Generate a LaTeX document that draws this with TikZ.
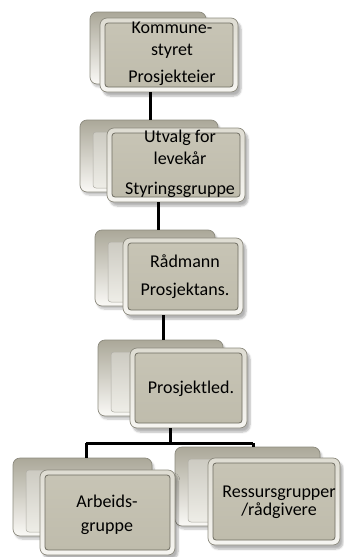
\documentclass[tikz,border=0pt]{standalone}
\usepackage{fontspec}
\setmainfont{Carlito}
\usetikzlibrary{shadows.blur}
\definecolor{rimdark}{HTML}{8C8A7E}
\definecolor{rimtop}{HTML}{DEDCD2}
\definecolor{rimbot}{HTML}{F6F5F1}
\definecolor{facecol}{HTML}{BFBCAC}
\definecolor{facetop}{HTML}{C7C4B5}
\definecolor{faceline}{HTML}{6F6D62}
\definecolor{backtop}{HTML}{ABA899}
\definecolor{backmid}{HTML}{EEEDE7}
\definecolor{backbot}{HTML}{FAF9F6}
\tikzset{
  backrim/.style={draw=rimdark, line width=0.7pt, rounded corners=7pt,
    top color=backtop, middle color=backmid, bottom color=backbot,
    blur shadow={shadow xshift=2pt, shadow yshift=-3pt, shadow blur steps=6, shadow opacity=25},
    inner sep=0pt},
  frontrim/.style={draw=rimdark, line width=0.7pt, rounded corners=7pt,
    top color=rimtop, bottom color=rimbot,
    blur shadow={shadow xshift=3pt, shadow yshift=-4pt, shadow blur steps=6, shadow opacity=30},
    inner sep=0pt},
  backface/.style={draw=rimdark!70, line width=0.5pt, rounded corners=3pt,
    top color=backtop!60!white, bottom color=backmid, inner sep=0pt},
  frontface/.style={draw=faceline, line width=0.8pt, rounded corners=3pt,
    top color=facetop, bottom color=facecol, inner sep=0pt},
  lbl/.style={align=center, font=\fontsize{18}{22}\selectfont, text=black, inner sep=0pt},
  conn/.style={line width=3pt, black}
}
\begin{document}
\begin{tikzpicture}[x=1pt,y=-1pt]
\useasboundingbox (0,0) rectangle (343,557);

% connector guide coordinates
\coordinate (x1) at (150,0);
\coordinate (x2) at (158,0);
\coordinate (x3) at (163,0);
\coordinate (x4) at (170,0);
\coordinate (xl) at (86,0);
\coordinate (xr) at (253,0);
\coordinate (hy) at (0,443);

% back boxes
\node[backrim, minimum width=116pt, minimum height=72pt] (b1b) at (148,48) {};
\node[backface, minimum width=100pt, minimum height=56pt] (b1bi) at (153,52) {};
\node[backrim, minimum width=138pt, minimum height=72pt] (b2b) at (149,156) {};
\node[backface, minimum width=122pt, minimum height=56pt] (b2bi) at (154,160) {};
\node[backrim, minimum width=120pt, minimum height=76pt] (b3b) at (155,268) {};
\node[backface, minimum width=104pt, minimum height=60pt] (b3bi) at (160,272) {};
\node[backrim, minimum width=125pt, minimum height=76pt] (b4b) at (160.5,378) {};
\node[backface, minimum width=109pt, minimum height=60pt] (b4bi) at (165.5,382) {};
\node[backrim, minimum width=139pt, minimum height=78pt] (b5lb) at (82.5,497) {};
\node[backface, minimum width=123pt, minimum height=62pt] (b5lbi) at (87.5,501) {};
\node[backrim, minimum width=145pt, minimum height=79pt] (b5rb) at (247.5,486.5) {};
\node[backface, minimum width=129pt, minimum height=63pt] (b5rbi) at (252.5,490.5) {};

% front boxes
\node[frontrim, minimum width=138pt, minimum height=74pt] (b1f) at (169,55) {};
\node[frontface, minimum width=128pt, minimum height=64pt] (b1fi) at (169,55) {};
\node[frontrim, minimum width=138pt, minimum height=74pt] (b2f) at (176,165) {};
\node[frontface, minimum width=128pt, minimum height=64pt] (b2fi) at (176,165) {};
\node[frontrim, minimum width=120pt, minimum height=77pt] (b3f) at (183,276.5) {};
\node[frontface, minimum width=110pt, minimum height=67pt] (b3fi) at (183,276.5) {};
\node[frontrim, minimum width=117pt, minimum height=80pt] (b4f) at (188.5,388) {};
\node[frontface, minimum width=107pt, minimum height=70pt] (b4fi) at (188.5,388) {};
\node[frontrim, minimum width=135pt, minimum height=85pt] (b5lf) at (107.5,512.5) {};
\node[frontface, minimum width=125pt, minimum height=75pt] (b5lfi) at (107.5,512.5) {};
\node[frontrim, minimum width=132pt, minimum height=87pt] (b5rf) at (274,501.5) {};
\node[frontface, minimum width=122pt, minimum height=77pt] (b5rfi) at (274,501.5) {};

% labels
\node[lbl] (t1) at (172,54) {Kommune-\\styret\\[5pt]Prosjekteier};
\node[lbl] (t2) at (180,164) {Utvalg for\\levekår\\[8pt]Styringsgruppe};
\node[lbl] (t3) at (185,277) {Rådmann\\[6pt]Prosjektans.};
\node[lbl] (t4) at (191,389) {Prosjektled.};
\node[lbl] (t5) at (107,515) {Arbeids-\\[2pt]gruppe};
\node[lbl, font=\fontsize{18}{18}\selectfont] (t6) at (279,502) {Ressursgrupper\\/rådgivere};

% connectors between box edges
\draw[conn] (b1f.south -| x1) -- (b2b.north -| x1);
\draw[conn] (b2f.south -| x2) -- (b3b.north -| x2);
\draw[conn] (b3f.south -| x3) -- (b4b.north -| x3);
\draw[conn] (b4f.south -| x4) -- (hy -| x4);
\draw[conn] (hy -| xl) -- (hy -| xr);
\draw[conn] (hy -| xl) -- (b5lb.north -| xl);
\draw[conn] (hy -| xr) -- (b5rb.north -| xr);
\end{tikzpicture}
\end{document}
